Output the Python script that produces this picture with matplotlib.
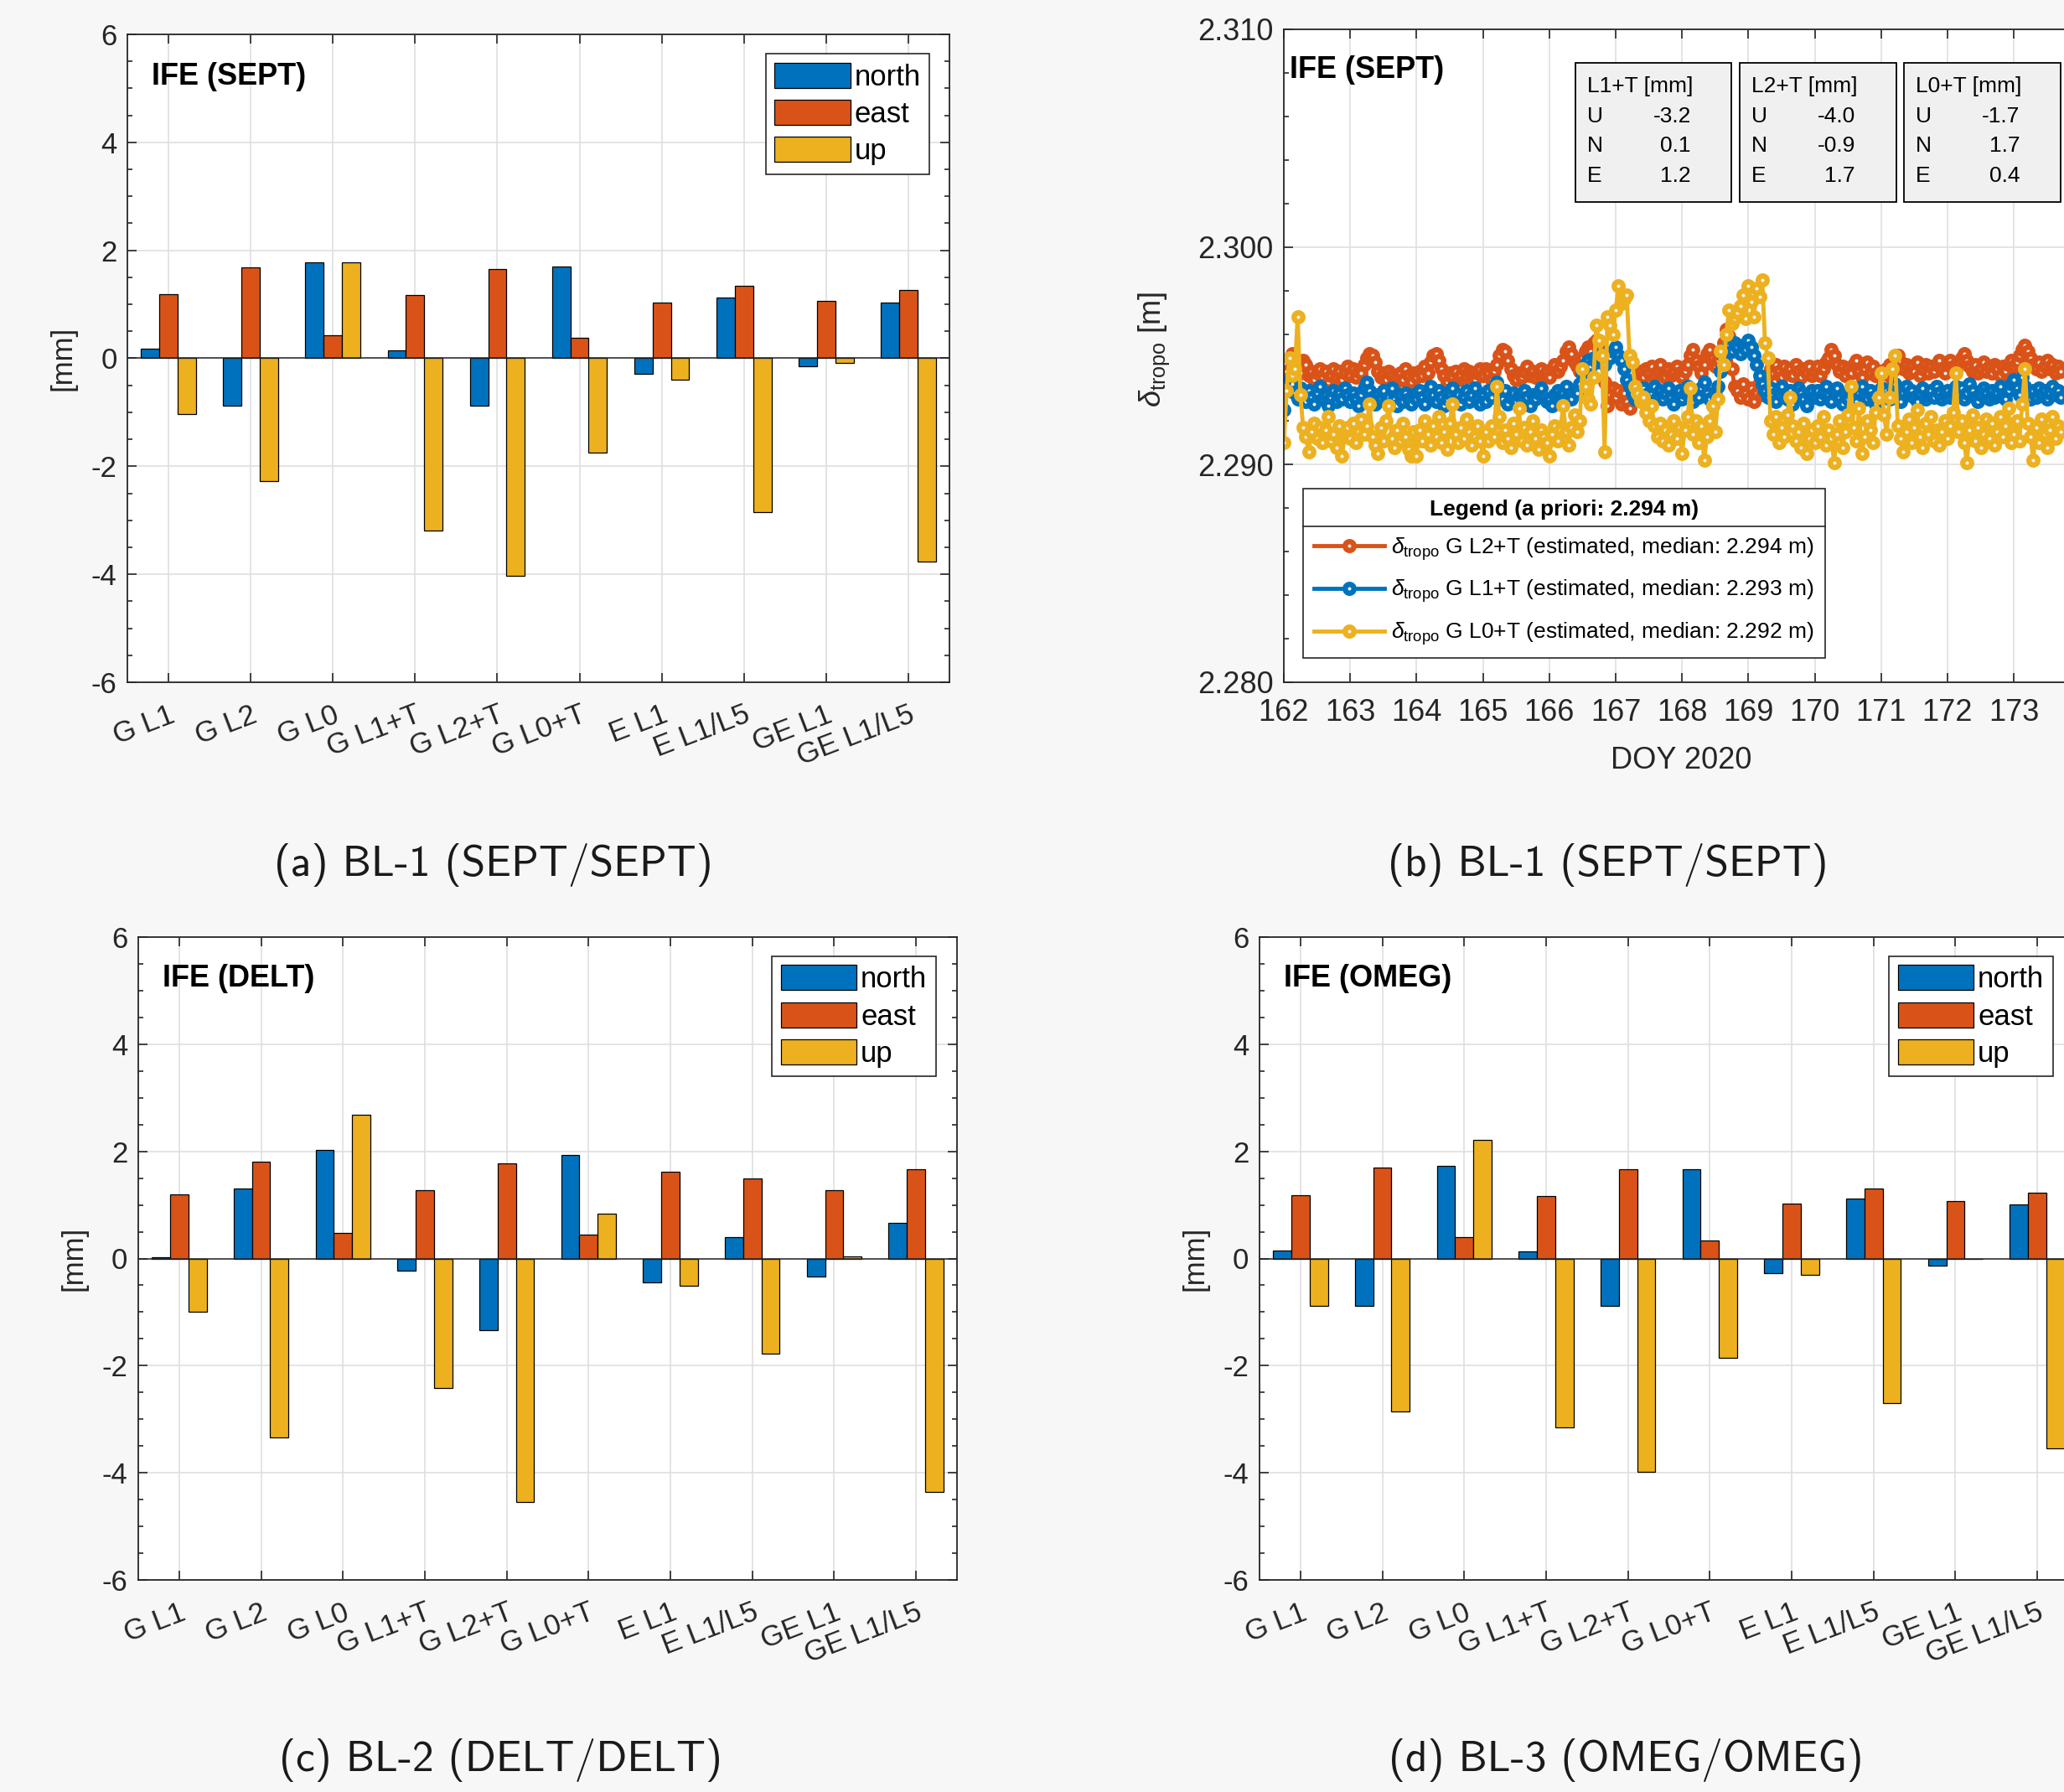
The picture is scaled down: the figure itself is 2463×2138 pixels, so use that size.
import numpy as np
import matplotlib
matplotlib.use("Agg")
import matplotlib.pyplot as plt
from matplotlib.patches import Rectangle
from matplotlib.lines import Line2D

plt.rcParams['font.family'] = ['Liberation Sans', 'DejaVu Sans']
plt.rcParams['axes.unicode_minus'] = False
plt.rcParams['mathtext.fontset'] = 'custom'
plt.rcParams['mathtext.rm'] = 'Liberation Sans'
plt.rcParams['mathtext.it'] = 'Liberation Sans:italic'

W, H = 2463, 2138
BG = '#f7f7f7'
C_N, C_E, C_U = '#0072BD', '#D95319', '#EDB120'
AXC = '#262626'

# ---- bar data (mm) ----
categories = ['G L1', 'G L2', 'G L0', 'G L1+T', 'G L2+T', 'G L0+T',
              'E L1', 'E L1/L5', 'GE L1', 'GE L1/L5']
sept_north = [0.18, -0.87, 1.77, 0.14, -0.87, 1.70, -0.28, 1.13, -0.14, 1.04]
sept_east = [1.19, 1.69, 0.43, 1.17, 1.66, 0.38, 1.04, 1.34, 1.07, 1.26]
sept_up = [-1.04, -2.28, 1.77, -3.19, -4.03, -1.75, -0.39, -2.85, -0.08, -3.77]
delt_north = [0.02, 1.30, 2.03, -0.22, -1.33, 1.94, -0.45, 0.40, -0.33, 0.67]
delt_east = [1.20, 1.80, 0.47, 1.27, 1.78, 0.44, 1.62, 1.50, 1.27, 1.67]
delt_up = [-1.00, -3.34, 2.68, -2.42, -4.55, 0.83, -0.51, -1.78, 0.04, -4.35]
omeg_north = [0.15, -0.89, 1.73, 0.14, -0.89, 1.66, -0.27, 1.12, -0.14, 1.01]
omeg_east = [1.18, 1.69, 0.40, 1.16, 1.66, 0.34, 1.03, 1.30, 1.07, 1.23]
omeg_up = [-0.89, -2.85, 2.21, -3.16, -3.98, -1.86, -0.30, -2.70, -0.01, -3.55]

# ---- troposphere series: hourly, mm above 2.290 m, one row per day from DOY 162 ----
doy_start = 162
epochs_per_day = 24
ztd_base = 2.290
ztd_l2t_mm = [
    3.7,4.3,4.9,5.1,4.7,4.5, 4.2,4.8,4.6,4.1,4.3,3.9, 4.2,4.4,4.0,4.3,3.8,4.1, 4.4,4.0,4.3,3.9,4.2,4.5,
    4.1,4.4,4.0,4.3,4.2,4.6, 4.9,5.1,5.0,4.7,4.3,4.0, 4.2,3.9,4.3,4.1,3.7,4.0, 4.2,3.9,4.4,4.1,3.8,4.2,
    4.0,4.3,4.1,4.5,4.2,4.7, 5.0,5.1,4.8,4.4,4.1,3.8, 4.2,4.0,4.3,3.9,4.1,4.4, 4.0,4.3,4.1,3.9,4.2,4.4,
    4.1,4.4,4.2,3.9,4.3,4.6, 5.0,5.3,5.2,4.8,4.4,4.1, 3.9,4.2,4.0,4.3,4.5,4.1, 4.3,4.0,4.2,4.4,4.1,4.3,
    4.0,4.4,4.6,4.3,4.5,4.8, 5.2,5.4,5.1,4.7,4.5,4.3, 4.9,5.2,5.4,5.2,5.6,5.7, 5.5,5.1,3.8,2.7,3.2,3.5,
    3.1,3.4,2.8,3.3,2.9,2.6, 3.2,3.8,4.1,4.3,4.0,4.4, 4.2,4.5,4.1,4.3,4.6,4.2, 4.0,4.4,4.1,4.3,4.5,4.2,
    4.0,4.3,4.6,5.0,5.3,4.8, 4.5,4.2,4.6,5.1,5.3,4.9, 4.5,4.8,5.2,5.6,6.2,5.9, 4.4,3.6,3.4,3.1,3.7,3.3,
    3.0,3.5,2.9,3.3,3.8,3.2, 3.6,4.1,4.4,4.2,4.6,4.3, 4.0,4.5,4.2,4.4,4.1,4.6, 4.3,4.0,4.4,4.2,4.5,4.1,
    4.3,4.5,4.1,4.4,4.7,4.9, 5.3,5.0,4.6,4.3,4.5,4.1, 4.4,4.2,4.6,4.8,4.3,4.0, 4.4,4.7,4.2,4.5,4.1,4.3,
    4.0,3.8,4.4,4.6,4.3,4.8, 5.0,4.7,4.4,4.6,4.2,4.5, 4.3,4.7,4.1,4.4,4.6,4.2, 4.5,4.3,4.6,4.8,4.4,4.2,
    4.6,4.8,4.5,4.3,4.7,4.9, 5.1,4.8,4.5,4.3,4.6,4.2, 4.4,4.7,4.3,4.5,4.2,4.6, 4.4,4.1,4.5,4.3,4.6,4.8,
    4.5,4.7,5.0,5.3,5.5,5.2, 4.9,4.6,4.4,4.7,4.3,4.5, 4.8,4.4,4.6,4.2,4.5,4.3,
]
ztd_l1t_mm = [
    2.5,3.4,3.9,3.7,3.3,3.0, 3.5,3.2,2.9,3.4,3.1,2.8, 3.3,3.6,3.0,3.2,2.7,3.1, 3.4,2.9,3.3,3.0,3.5,3.2,
    2.9,3.3,3.0,2.7,3.2,3.5, 3.8,3.4,3.1,2.8,3.2,3.0, 3.4,2.9,3.1,3.5,3.0,2.7, 3.2,2.9,3.3,3.0,2.8,3.2,
    3.0,3.4,3.1,2.8,3.3,3.6, 3.2,2.9,3.4,3.1,2.7,3.0, 3.3,3.5,3.0,3.2,2.8,3.1, 3.4,2.9,3.2,3.5,3.0,2.8,
    3.2,2.9,3.4,3.1,3.5,3.8, 3.3,3.0,3.4,2.8,3.1,3.3, 2.9,3.2,3.0,3.4,3.1,2.7, 3.2,3.0,3.3,3.5,3.1,2.9,
    3.0,2.7,3.2,3.4,3.1,3.3, 3.6,3.2,3.0,3.4,3.3,3.7, 4.2,4.6,4.8,4.5,4.9,4.7, 5.0,4.8,4.6,5.1,4.9,5.2,
    5.4,5.0,4.8,4.4,3.9,3.6, 3.3,3.0,3.4,3.1,3.5,3.2, 2.9,3.3,3.6,3.1,3.4,3.0, 3.3,3.5,3.1,2.8,3.2,3.4,
    3.0,3.3,3.6,3.2,2.9,3.4, 3.1,3.5,3.8,3.3,3.0,2.7, 3.2,3.6,4.3,4.9,5.3,5.5, 5.2,5.6,5.4,5.1,5.5,5.3,
    5.7,5.4,5.0,4.6,4.1,3.7, 3.4,3.1,3.5,3.2,2.9,3.3, 3.6,3.2,3.0,3.4,2.8,3.1, 3.5,3.3,3.0,2.7,3.2,3.4,
    3.1,3.4,3.0,3.3,3.6,3.2, 2.9,3.3,3.5,3.1,2.8,3.2, 3.0,3.4,3.1,2.9,3.3,3.6, 3.2,3.0,3.4,3.1,2.8,3.3,
    3.5,3.1,3.4,3.0,3.3,3.7, 3.2,2.9,3.3,3.6,3.2,3.4, 3.1,2.9,3.3,3.5,3.0,3.2, 3.4,3.1,3.6,3.3,3.0,3.2,
    3.4,3.1,3.3,3.6,3.2,3.5, 3.0,3.3,3.7,3.4,3.1,2.9, 3.2,3.5,3.3,3.0,3.4,3.1, 3.3,3.6,3.2,3.0,3.4,3.7,
    3.9,3.5,3.2,4.0,3.6,3.3, 3.0,3.4,3.1,3.5,3.2,3.4, 3.0,3.3,3.6,3.2,3.4,3.1,
]
ztd_l0t_mm = [
    1.0,3.4,4.9,4.1,4.4,6.8, 3.2,1.7,1.3,0.6,1.5,1.9, 1.2,1.7,1.0,1.6,2.2,1.1, 1.4,0.8,1.8,0.4,1.3,1.7,
    1.2,1.9,1.0,1.5,2.1,1.4, 1.8,2.8,1.3,0.9,0.5,1.7, 1.1,2.0,2.7,1.2,0.8,1.6, 1.1,1.9,1.3,0.7,0.4,1.5,
    0.4,1.6,1.1,2.0,1.4,0.9, 1.8,1.3,2.2,1.0,1.5,0.7, 1.9,2.8,1.4,1.0,1.7,1.2, 2.1,1.5,0.9,1.3,1.8,1.1,
    0.4,1.5,1.1,1.8,1.3,3.6, 2.2,1.0,1.6,1.2,0.8,1.9, 1.4,2.6,1.1,1.7,0.9,1.5, 2.0,1.2,0.7,1.6,1.3,1.0,
    0.4,1.4,1.8,1.1,1.6,2.7, 1.5,0.9,1.7,2.3,1.5,2.0, 4.4,3.6,3.0,2.8,4.0,6.4, 5.7,5.0,0.6,6.8,6.4,6.0,
    7.1,8.2,7.4,7.6,7.8,5.0, 4.7,3.6,3.3,2.9,3.1,2.4, 2.0,2.7,1.8,1.3,1.9,1.1, 1.6,0.9,1.4,2.0,1.2,1.7,
    0.5,1.6,2.2,3.5,1.4,2.0, 1.0,1.8,0.2,1.3,2.0,2.7, 1.5,3.0,5.2,4.6,6.0,7.1, 6.5,6.7,7.0,7.3,7.8,6.7,
    8.2,7.5,6.8,8.1,7.7,8.5, 5.6,4.9,2.0,1.4,2.2,1.0, 1.7,1.3,2.3,3.1,1.8,1.1, 1.5,0.8,1.9,0.5,1.2,1.6,
    1.0,1.8,1.3,2.2,0.9,1.6, 1.2,0.1,1.4,2.0,0.8,1.5, 2.3,3.6,1.7,1.1,2.6,0.5, 1.3,2.0,1.6,1.0,2.4,3.1,
    4.2,2.3,1.4,3.1,4.4,5.0, 1.8,1.2,0.6,1.5,2.1,1.0, 1.7,2.5,1.3,0.8,1.9,1.4, 2.2,1.1,1.6,0.9,1.5,2.0,
    1.2,1.8,2.4,4.2,1.5,2.0, 1.0,0.1,1.6,2.3,1.1,1.7, 0.8,1.4,2.1,1.2,1.9,0.9, 1.5,2.2,1.3,1.8,2.6,1.0,
    1.4,2.0,1.1,2.8,4.4,1.9, 1.3,0.2,1.7,1.0,2.1,1.4, 0.8,1.6,2.2,1.2,1.8,1.5,
]
series_names = ['G L2+T', 'G L1+T', 'G L0+T']
series_medians = [2.294, 2.293, 2.292]
a_priori = 2.294

# ---- summary tables in panel (b) ----
tbl_titles = ['L1+T [mm]', 'L2+T [mm]', 'L0+T [mm]']
tbl_u = [-3.2, -4.0, -1.7]
tbl_n = [0.1, -0.9, 1.7]
tbl_e = [1.2, 1.7, 0.4]


def px_rect(left, top, right, bottom):
    return [left / W, 1 - bottom / H, (right - left) / W, (bottom - top) / H]


def style_axes(ax, fs):
    for s in ax.spines.values():
        s.set_color(AXC)
        s.set_linewidth(1.3)
    ax.tick_params(which='both', direction='in', top=True, right=True,
                   colors=AXC, labelcolor=AXC, labelsize=fs, width=1.2)
    ax.tick_params(which='major', length=8)
    ax.tick_params(which='minor', length=4.5)
    ax.grid(True, which='major', color='#dfdfdf', lw=1.2)
    ax.set_axisbelow(True)


def bar_panel(fig, rect, north, east, up, station, leg_x):
    ax = fig.add_axes(rect)
    fs = 25
    style_axes(ax, fs)
    x = np.arange(1, len(categories) + 1)
    w = 0.223
    for off, vals, col, lab in [(-w, north, C_N, 'north'), (0, east, C_E, 'east'), (w, up, C_U, 'up')]:
        ax.bar(x + off, vals, w, color=col, edgecolor='k', linewidth=0.9, label=lab, zorder=3)
    ax.axhline(0, color=AXC, lw=1.1, zorder=4)
    ax.set_xlim(0.5, 10.5)
    ax.set_ylim(-6, 6)
    ax.set_xticks(x)
    ax.set_xticklabels(categories, rotation=21, ha='right', va='top', rotation_mode='anchor')
    ax.tick_params(axis='x', pad=16)
    ax.tick_params(axis='y', pad=9)
    ax.set_yticks(np.arange(-6, 7, 2))
    ax.set_yticks(np.arange(-6, 6.01, 0.5), minor=True)
    ax.yaxis.set_major_formatter(lambda v, p: f'{v:g}')
    ax.set_ylabel('[mm]', fontsize=fs, color=AXC)
    ax.yaxis.set_label_coords(-0.062, 0.5)
    ax.text(0.03, 0.935, station, transform=ax.transAxes, fontsize=26,
            fontweight='bold', va='center', ha='left')
    leg = ax.legend(loc='upper right', bbox_to_anchor=(leg_x, 0.970), borderaxespad=0,
                    fontsize=fs, fancybox=False, framealpha=1, edgecolor=AXC,
                    handlelength=2.6, handleheight=0.95, handletextpad=0.15,
                    labelspacing=0.3, borderpad=0.3)
    leg.get_frame().set_linewidth(1.2)
    return ax


def tropo_panel(fig, rect):
    ax = fig.add_axes(rect)
    fs = 26
    style_axes(ax, fs)
    cols = [C_E, C_N, C_U]
    handles = []
    for vals, col, name, med in zip([ztd_l2t_mm, ztd_l1t_mm, ztd_l0t_mm], cols,
                                    series_names, series_medians):
        doy = doy_start + np.arange(len(vals)) / epochs_per_day
        y = ztd_base + np.array(vals) / 1000.0
        lab = r'$\delta_{\mathrm{tropo}}$ ' + f'{name} (estimated, median: {med:.3f} m)'
        h, = ax.plot(doy, y, '-o', color=col, lw=3.5, ms=7.6, mew=4.6, mfc='#f4f4f4',
                     mec=col, label=lab)
        handles.append(h)
    ax.set_xlim(162, 175)
    ax.set_ylim(2.280, 2.310)
    ax.set_xticks(np.arange(162, 174))
    ax.set_yticks([2.280, 2.290, 2.300, 2.310])
    ax.set_yticks(np.arange(2.280, 2.3101, 0.002), minor=True)
    ax.yaxis.set_major_formatter(lambda v, p: f'{v:.3f}')
    ax.tick_params(axis='x', pad=14)
    ax.tick_params(axis='y', pad=9)
    ax.set_xlabel('DOY 2020', fontsize=fs, color=AXC)
    ax.xaxis.set_label_coords(0.461, -0.098)
    ax.set_ylabel(r'$\delta_{\mathrm{tropo}}$ [m]', fontsize=fs, color=AXC)
    ax.yaxis.set_label_coords(-0.130, 0.51)
    ax.text(0.007, 0.938, 'IFE (SEPT)', transform=ax.transAxes, fontsize=26,
            fontweight='bold', va='center', ha='left')

    # summary boxes
    bx0, bw, gap = 0.338, 0.181, 0.0095
    for i, title in enumerate(tbl_titles):
        x0 = bx0 + i * (bw + gap)
        ax.add_patch(Rectangle((x0, 0.736), bw, 0.213, transform=ax.transAxes,
                               facecolor='#f0f0f0', edgecolor='k', lw=1.3, zorder=5))
        ax.text(x0 + 0.0135, 0.913, title, transform=ax.transAxes, fontsize=19,
                va='center', ha='left', zorder=6)
        for lab, val, yy in zip(['U', 'N', 'E'], [tbl_u[i], tbl_n[i], tbl_e[i]],
                                [0.867, 0.821, 0.775]):
            ax.text(x0 + 0.0135, yy, lab, transform=ax.transAxes, fontsize=19,
                    va='center', ha='left', zorder=6)
            ax.text(x0 + 0.134, yy, f'{val:.1f}', transform=ax.transAxes, fontsize=19,
                    va='center', ha='right', zorder=6)

    leg = ax.legend(handles=handles, loc='lower left', bbox_to_anchor=(0.022, 0.037),
                    borderaxespad=0, fontsize=19, title=f'Legend (a priori: {a_priori:.3f} m)',
                    title_fontproperties={'weight': 'bold', 'size': 19},
                    fancybox=False, framealpha=1, edgecolor=AXC, handlelength=3.2,
                    handletextpad=0.3, labelspacing=0.72, borderpad=0.5, numpoints=1)
    leg.get_frame().set_linewidth(1.2)
    leg.set_zorder(10)
    return ax, leg


def main():
    fig = plt.figure(figsize=(W / 100, H / 100), dpi=100, facecolor=BG)

    bar_panel(fig, px_rect(152, 41, 1133, 814), sept_north, sept_east, sept_up,
              'IFE (SEPT)', 0.976)
    ax_b, leg = tropo_panel(fig, px_rect(1532, 35, 1532 + 13 * 79.2, 814))
    bar_panel(fig, px_rect(165, 1118, 1142, 1885), delt_north, delt_east, delt_up,
              'IFE (DELT)', 0.974)
    bar_panel(fig, px_rect(1503, 1118, 2480, 1885), omeg_north, omeg_east, omeg_up,
              'IFE (OMEG)', 0.969)

    caps = [('(a) BL-1 (SEPT/SEPT)', 589, 1032), ('(b) BL-1 (SEPT/SEPT)', 1919, 1032),
            ('(c) BL-2 (DELT/DELT)', 597, 2100), ('(d) BL-3 (OMEG/OMEG)', 1940, 2100)]
    for txt, cx, cy in caps:
        fig.text(cx / W, 1 - cy / H, txt, ha='center', va='center',
                 family='cmss10', fontsize=37, color='#1a1a1a')

    # separator under the legend title
    fig.canvas.draw()
    r = fig.canvas.get_renderer()
    fb = leg.get_frame().get_window_extent(r)
    tb = leg.get_title().get_window_extent(r)
    ysep = tb.y0 - 8
    inv = fig.transFigure.inverted()
    (fx0, fy), (fx1, _) = inv.transform([(fb.x0, ysep), (fb.x1, ysep)])
    fig.add_artist(Line2D([fx0, fx1], [fy, fy], transform=fig.transFigure,
                          color=AXC, lw=1.2, zorder=20))

    fig.savefig('out.png', dpi=100, facecolor=BG)


if __name__ == '__main__':
    main()
